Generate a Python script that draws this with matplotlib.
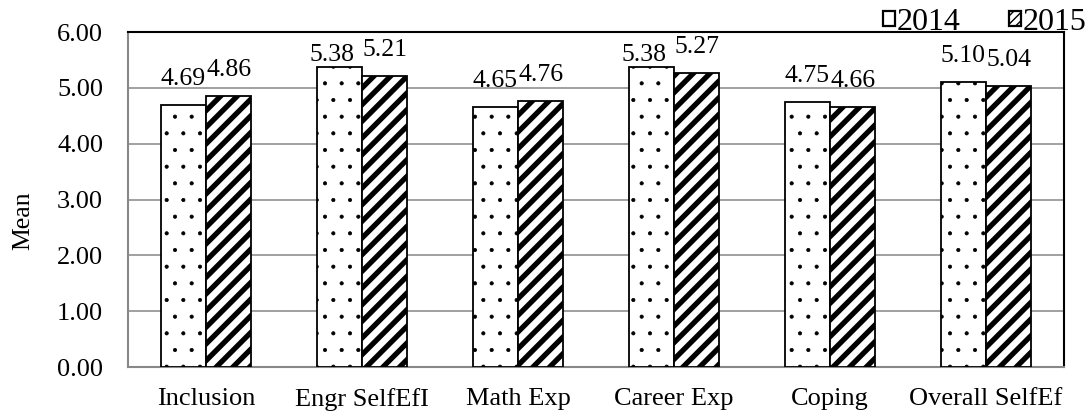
import matplotlib
matplotlib.use("Agg")
import matplotlib.pyplot as plt
import numpy as np
from matplotlib.patches import Patch

categories = ["Inclusion", "Engr SelfEfI", "Math Exp", "Career Exp", "Coping", "Overall SelfEf"]
series_names = ["2014", "2015"]
values_2014 = [4.69, 5.38, 4.65, 5.38, 4.75, 5.10]
values_2015 = [4.86, 5.21, 4.76, 5.27, 4.66, 5.04]
yticks = [0, 1, 2, 3, 4, 5, 6]

plt.rcParams["font.family"] = ["Liberation Serif", "DejaVu Serif"]

fig = plt.figure(figsize=(10.87, 4.12), dpi=100)
ax = fig.add_axes([128 / 1087, 1 - 367 / 412, (1064 - 128) / 1087, (367 - 32) / 412])

x = np.arange(len(categories))
w = 0.29

# dotted bars (thin hatch) and bold striped bars (thick hatch)
with plt.rc_context({"hatch.linewidth": 0.5}):
    b1 = ax.bar(x - w / 2, values_2014, w, facecolor="white", edgecolor="black",
                linewidth=1.3, hatch=".", zorder=3)
with plt.rc_context({"hatch.linewidth": 3.8}):
    b2 = ax.bar(x + w / 2, values_2015, w, facecolor="white", edgecolor="black",
                linewidth=1.3, hatch="//", zorder=3)

# value labels sit above each bar; labels that would leave the plot area
# are tucked down against the bar top and nudged aside
for xs, vals in ((x - w / 2, values_2014), (x + w / 2, values_2015)):
    for xi, v in zip(xs, vals):
        ty, dx = v + 0.36, 0
        if ty > 5.66:
            ty, dx = v + 0.1, -5
        ax.annotate(f"{v:.2f}", (xi, ty), xytext=(dx, 0), textcoords="offset points",
                    ha="center", va="baseline", fontsize=18.5)

ax.set_xlim(-0.5, len(categories) - 0.5)
ax.set_ylim(0, 6)
ax.set_yticks(yticks)
ax.set_yticklabels([f"{t:.2f}" for t in yticks], fontsize=19)
ax.set_xticks(x)
ax.set_xticklabels(categories, fontsize=19)
ax.tick_params(axis="y", length=0, pad=18)
ax.tick_params(axis="x", length=0, pad=15)
ax.yaxis.grid(True, color="#999999", linewidth=1.3, zorder=0)
ax.set_axisbelow(True)
for side in ("left", "bottom"):
    ax.spines[side].set_color("#888888")
    ax.spines[side].set_linewidth(1.5)
for side in ("top", "right"):
    ax.spines[side].set_color("black")
    ax.spines[side].set_linewidth(1.5)
ax.set_ylabel("Mean", fontsize=18.5)
ax.yaxis.set_label_coords(-0.1, 0.436)

with plt.rc_context({"hatch.linewidth": 2.5}):
    handles = [Patch(facecolor="white", edgecolor="black", linewidth=1.6),
               Patch(facecolor="white", edgecolor="black", hatch="////", linewidth=1.6)]
ax.legend(handles, series_names, loc="lower right", bbox_to_anchor=(1.024, 0.985),
          ncol=2, frameon=False, fontsize=23, handlelength=0.38, handleheight=0.38,
          handletextpad=0.06, columnspacing=1.5, borderaxespad=0, borderpad=0)

fig.savefig("out.png", dpi=100)
